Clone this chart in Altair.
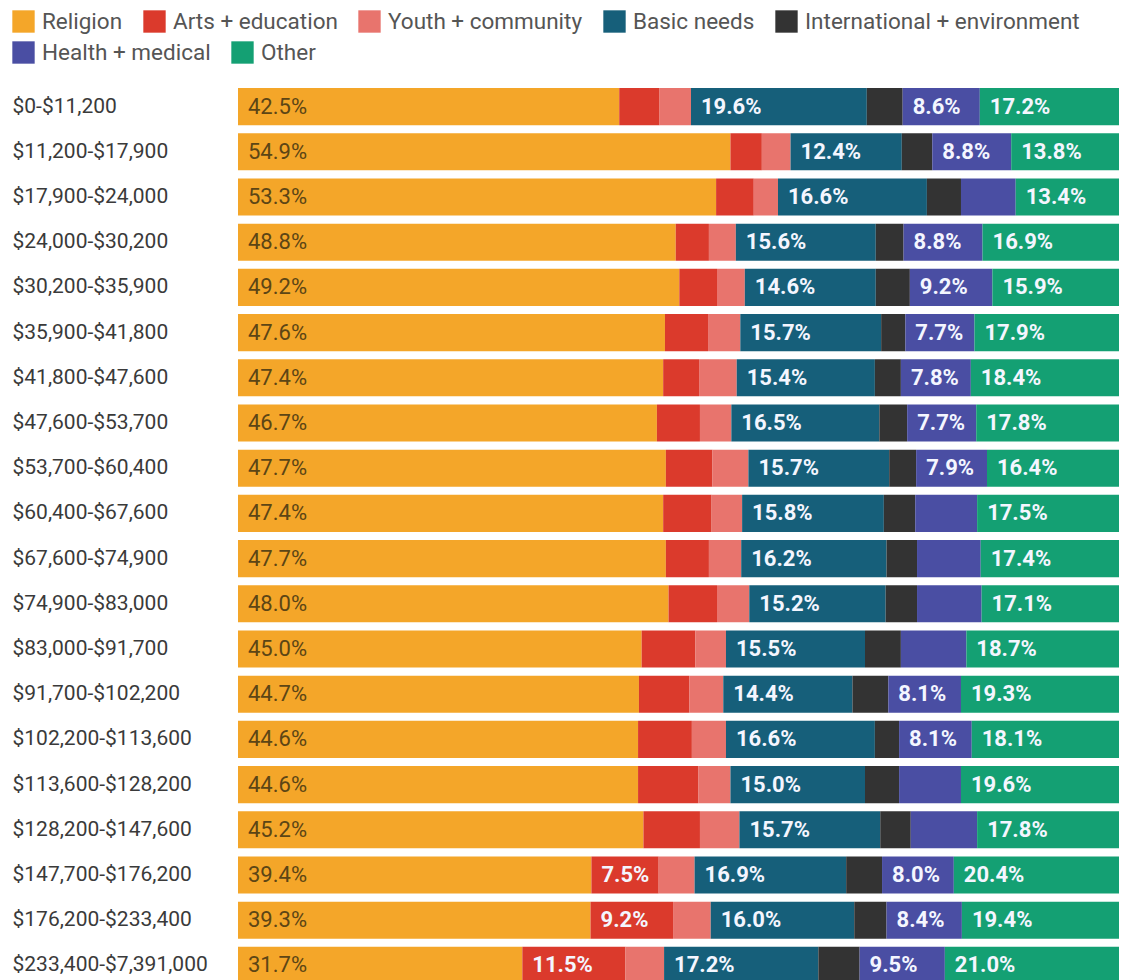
import altair as alt
import pandas as pd

brackets = [
    "$0-$11,200", "$11,200-$17,900", "$17,900-$24,000", "$24,000-$30,200",
    "$30,200-$35,900", "$35,900-$41,800", "$41,800-$47,600", "$47,600-$53,700",
    "$53,700-$60,400", "$60,400-$67,600", "$67,600-$74,900", "$74,900-$83,000",
    "$83,000-$91,700", "$91,700-$102,200", "$102,200-$113,600", "$113,600-$128,200",
    "$128,200-$147,600", "$147,700-$176,200", "$176,200-$233,400", "$233,400-$7,391,000",
]
categories = ["Religion", "Arts + education", "Youth + community", "Basic needs",
              "International + environment", "Health + medical", "Other"]
colors = ["#f4a629", "#db3a2c", "#e8746d", "#165f7a", "#333333", "#4a4ea3", "#14a073"]

religion = [42.5, 54.9, 53.3, 48.8, 49.2, 47.6, 47.4, 46.7, 47.7, 47.4, 47.7, 48.0, 45.0, 44.7, 44.6, 44.6, 45.2, 39.4, 39.3, 31.7]
arts = [4.5, 3.5, 4.2, 3.7, 4.2, 4.8, 4.0, 4.8, 5.2, 5.4, 4.8, 5.4, 6.0, 5.6, 6.0, 6.7, 6.3, 7.5, 9.2, 11.5]
youth = [3.5, 3.2, 2.7, 3.0, 3.1, 3.6, 4.2, 3.5, 4.0, 3.4, 3.6, 3.6, 3.4, 3.8, 3.8, 3.6, 4.4, 4.0, 4.2, 4.3]
basic = [19.6, 12.4, 16.6, 15.6, 14.6, 15.7, 15.4, 16.5, 15.7, 15.8, 16.2, 15.2, 15.5, 14.4, 16.6, 15.0, 15.7, 16.9, 16.0, 17.2]
intl = [4.0, 3.4, 3.8, 3.1, 3.8, 2.7, 2.9, 3.1, 3.0, 3.5, 3.4, 3.5, 4.0, 4.0, 2.7, 3.8, 3.4, 4.0, 3.6, 4.6]
health = [8.6, 8.8, 6.1, 8.8, 9.2, 7.7, 7.8, 7.7, 7.9, 6.9, 7.1, 7.2, 7.3, 8.1, 8.1, 6.9, 7.4, 8.0, 8.4, 9.5]
other = [17.2, 13.8, 13.4, 16.9, 15.9, 17.9, 18.4, 17.8, 16.4, 17.5, 17.4, 17.1, 18.7, 19.3, 18.1, 19.6, 17.8, 20.4, 19.4, 21.0]

series = [religion, arts, youth, basic, intl, health, other]
rows = []
for i, b in enumerate(brackets):
    for j, cat in enumerate(categories):
        rows.append({"bracket": b, "category": cat, "order": j, "value": series[j][i]})
df = pd.DataFrame(rows)

FONT = "Roboto"
PLOT_W = 881
PX_PER_PCT = 8.97

base = alt.Chart(df).transform_stack(
    stack="value", groupby=["bracket"], as_=["x0", "x1"],
    sort=[alt.SortField("order", order="ascending")],
).transform_calculate(
    label="format(datum.value, '.1f') + '%'"
)

yenc = alt.Y(
    "bracket:N", sort=brackets, title=None,
    scale=alt.Scale(paddingInner=0.18, paddingOuter=0.09),
    axis=alt.Axis(domain=False, ticks=False, tickSize=0, labelAlign="left",
                  labelPadding=226, labelFont=FONT, labelFontSize=21,
                  labelColor="#3a3a3a", labelLimit=400),
)
# the reference bars run past the right edge of the picture: clamp at the plot edge
xscale = alt.Scale(domain=[0, PLOT_W / PX_PER_PCT], range=[0, PLOT_W], nice=False, clamp=True)
xenc = alt.X("x0:Q", scale=xscale, axis=None)

legend_common = dict(
    title=None, orient="none", legendX=-226, direction="horizontal",
    symbolType="square", symbolSize=500, symbolStrokeWidth=0,
    labelFont=FONT, labelFontSize=22.5, labelColor="#555555",
    labelOffset=7, columnPadding=20, labelLimit=400, symbolOpacity=1,
)

bars = base.mark_bar().encode(
    x=xenc,
    x2="x1:Q",
    y=yenc,
    color=alt.Color(
        "category:N",
        scale=alt.Scale(domain=categories, range=colors),
        legend=alt.Legend(values=categories[:5], legendY=-74, **legend_common),
    ),
    order=alt.Order("order:Q"),
)

legend_row2 = base.transform_filter("false").mark_bar().encode(
    x=xenc,
    x2="x1:Q",
    y=yenc,
    fill=alt.Fill(
        "category:N",
        scale=alt.Scale(domain=categories[5:], range=colors[5:]),
        legend=alt.Legend(legendY=-43, **legend_common),
    ),
)

rel_labels = base.transform_filter(alt.datum.category == "Religion").mark_text(
    align="left", baseline="middle", dx=10, font=FONT, fontSize=22, color="#5c4515"
).encode(x=xenc, y=yenc, text="label:N")

other_labels = base.transform_filter(
    (alt.datum.category != "Religion") & (alt.datum.value >= 7.45)
).mark_text(
    align="left", baseline="middle", dx=10, font=FONT, fontSize=22,
    fontWeight="bold", color="#f4f6ff"
).encode(x=xenc, y=yenc, text="label:N")

chart = alt.layer(bars, legend_row2, rel_labels, other_labels).properties(
    width=PLOT_W, height=904,
    padding={"left": 4, "top": 2, "right": 0, "bottom": 0},
).configure_view(stroke=None)

chart.save("out.html", embed_options={"renderer": "svg", "actions": False})
